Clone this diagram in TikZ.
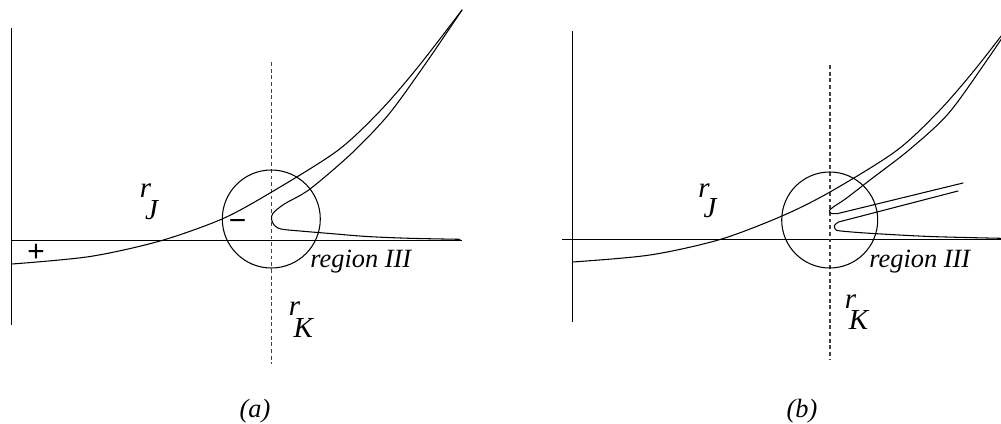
\documentclass[tikz,border=0pt]{standalone}
\usepackage{fontspec}
\setmainfont{Liberation Serif}
\newfontfamily\symfont{Liberation Sans}
\begin{document}
\begin{tikzpicture}[x=0.02cm,y=-0.02cm,
  curve/.style={line width=0.6pt, line join=round, line cap=round},
  axis/.style={line width=0.6pt},
  guide/.style={line width=0.6pt, black!75, dash pattern=on 2.2pt off 1.6pt},
  lab/.style={inner sep=0pt, font=\itshape\fontsize{15}{18}\selectfont},
  biglab/.style={inner sep=0pt, font=\itshape\fontsize{16.5}{19}\selectfont},
  sym/.style={inner sep=0pt, font=\symfont\fontsize{17}{20}\selectfont}]
\useasboundingbox (0,0) rectangle (1001,423);

% ---------------- panel (a) ----------------
\draw[axis] (11.7,28) -- (11.7,325);
\draw[axis] (11,240.7) -- (462,240.7);
\draw[guide] (271.7,62) -- (271.7,364);
\draw[axis] (271.3,219) circle [radius=49];
% outer curve
\draw[curve] plot[smooth, tension=0.5] coordinates {(12,264) (90,256.5) (160,241) (222,219) (270,193) (337,151) (380,111) (418,67) (462,10)};
% inner curve with turn
\draw[curve] plot[smooth, tension=0.5] coordinates {(462,10) (426,63) (389,114) (352,153) (310,189) (286,203) (277.5,209) (272.5,214) (271.5,219) (274,225) (281,229) (300,231) (330,233.5) (367,236.5) (410,238.3) (460,239.3)};
\node[sym] (plus) at (36,252.5) {+};
\node[sym] (minus) at (237.5,225) {\char"2212};
\node[biglab, anchor=base west] (rJa) at (139.5,197) {r\kern-3.4pt\raisebox{-13pt}{J}};
\node[biglab, anchor=base west] (rKa) at (288.5,315) {r\kern-3.7pt\raisebox{-13pt}{K}};
\node[lab, anchor=base west] (rega) at (310,267.5) {region III};
\node[lab, anchor=base] (capa) at (255,417) {(a)};

% ---------------- panel (b) ----------------
\draw[axis] (572.3,31) -- (572.3,322);
\draw[axis] (562,239.3) -- (1001,239.3);
\draw[guide] (830,65) -- (830,359);
\draw[axis] (829.7,220) circle [radius=48];
\begin{scope}
\clip (0,0) rectangle (1001,423);
\draw[curve] plot[smooth, tension=0.5] coordinates {(572.5,262) (650,255) (720,239.5) (782,216) (830,192) (896,151) (939,111) (977,67) (1021,10)};
\draw[curve] plot[smooth, tension=0.5] coordinates {(1021,10) (985,63) (948,114) (909,150) (870,180) (846,198.5) (834,206.5) (829.5,210.5) (831.5,213.5) (838,213.5)} -- (963,183);
\end{scope}
\draw[curve] (958,191) -- (838.5,222) plot[smooth, tension=0.5] coordinates {(838.5,222) (834.5,225.5) (835.5,229.5) (841,231) (870,233.3) (930,236.5) (1001,238.3)};
\node[biglab, anchor=base west] (rJb) at (698,197) {r\kern-3.4pt\raisebox{-11.9pt}{J}};
\node[biglab, anchor=base west] (rKb) at (844.5,308) {r\kern-4.2pt\raisebox{-12.5pt}{K}};
\node[lab, anchor=base west] (regb) at (869,267) {region III};
\node[lab, anchor=base] (capb) at (802,417) {(b)};
\end{tikzpicture}
\end{document}
